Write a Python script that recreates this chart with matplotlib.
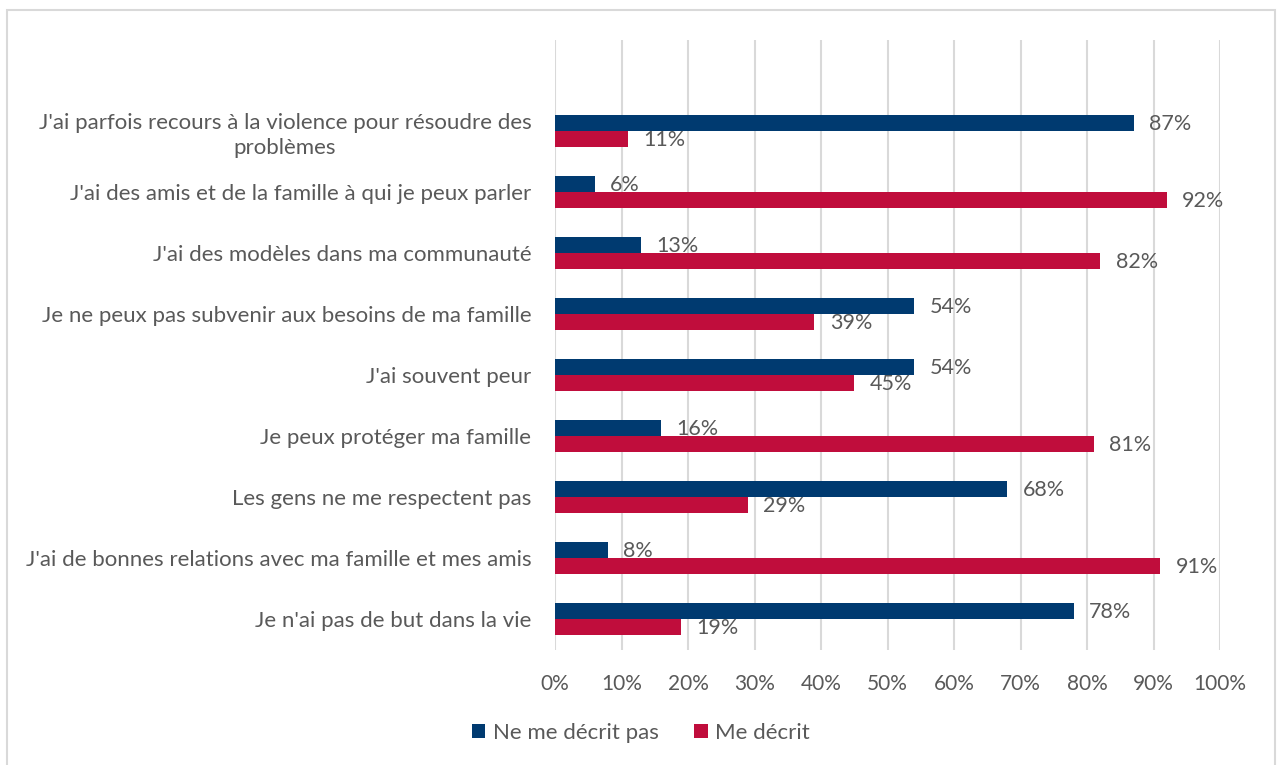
import numpy as np
import matplotlib.pyplot as plt
from matplotlib.patches import Rectangle

plt.rcParams["font.family"] = ["Lato", "DejaVu Sans"]

categories = [
    "J'ai parfois recours à la violence pour résoudre des\nproblèmes",
    "J'ai des amis et de la famille à qui je peux parler",
    "J'ai des modèles dans ma communauté",
    "Je ne peux pas subvenir aux besoins de ma famille",
    "J'ai souvent peur",
    "Je peux protéger ma famille",
    "Les gens ne me respectent pas",
    "J'ai de bonnes relations avec ma famille et mes amis",
    "Je n'ai pas de but dans la vie",
]
ne_decrit_pas = [87, 6, 13, 54, 54, 16, 68, 8, 78]
decrit = [11, 92, 82, 39, 45, 81, 29, 91, 19]
series_names = ["Ne me décrit pas", "Me décrit"]
xticks = list(range(0, 101, 10))

BLUE = "#003A70"
RED = "#C00D3C"
TXT = "#595959"
GRID = "#D9D9D9"

W, H = 1279, 765
fig = plt.figure(figsize=(W / 100, H / 100), dpi=100)
ax = fig.add_axes([555 / W, 1 - 650 / H, (1220 - 555) / W, (650 - 40) / H])

y = np.arange(len(categories))
h = 0.262
b1 = ax.barh(y - h / 2, ne_decrit_pas, height=h, color=BLUE, label=series_names[0])
b2 = ax.barh(y + h / 2, decrit, height=h, color=RED, label=series_names[1])

for bars in (b1, b2):
    for rect in bars:
        v = rect.get_width()
        ax.text(v + 2.3, rect.get_y() + rect.get_height() / 2 + 0.02, f"{v:.0f}%",
                va="center", ha="left", fontsize=15.5, color=TXT)

ax.set_xlim(0, 100)
ax.set_ylim(8.51, -1.49)
ax.set_xticks(xticks)
ax.set_xticklabels([f"{t}%" for t in xticks], fontsize=15)
ax.set_yticks(y)
ax.set_yticklabels(categories, ha="right", multialignment="center",
                   fontsize=16, linespacing=1.3)
ax.tick_params(axis="both", length=0, labelcolor=TXT)
ax.tick_params(axis="x", pad=17)
ax.tick_params(axis="y", pad=17)
ax.grid(axis="x", color=GRID, lw=1.5)
ax.grid(axis="y", visible=False)
ax.set_axisbelow(True)
for s in ax.spines.values():
    s.set_visible(False)

fig.legend(handles=[b1, b2], labels=series_names, loc="center",
           bbox_to_anchor=(641 / W, 1 - 733 / H), ncol=2, frameon=False,
           fontsize=16, labelcolor=TXT, handlelength=0.6, handleheight=0.6,
           handletextpad=0.35, columnspacing=1.6)

fig.patches.append(Rectangle((7 / W, -0.01), (1275 - 7) / W, 1.01 - 10 / H,
                             transform=fig.transFigure, fill=False,
                             edgecolor=GRID, lw=1.5))

fig.savefig("out.png", dpi=100)
